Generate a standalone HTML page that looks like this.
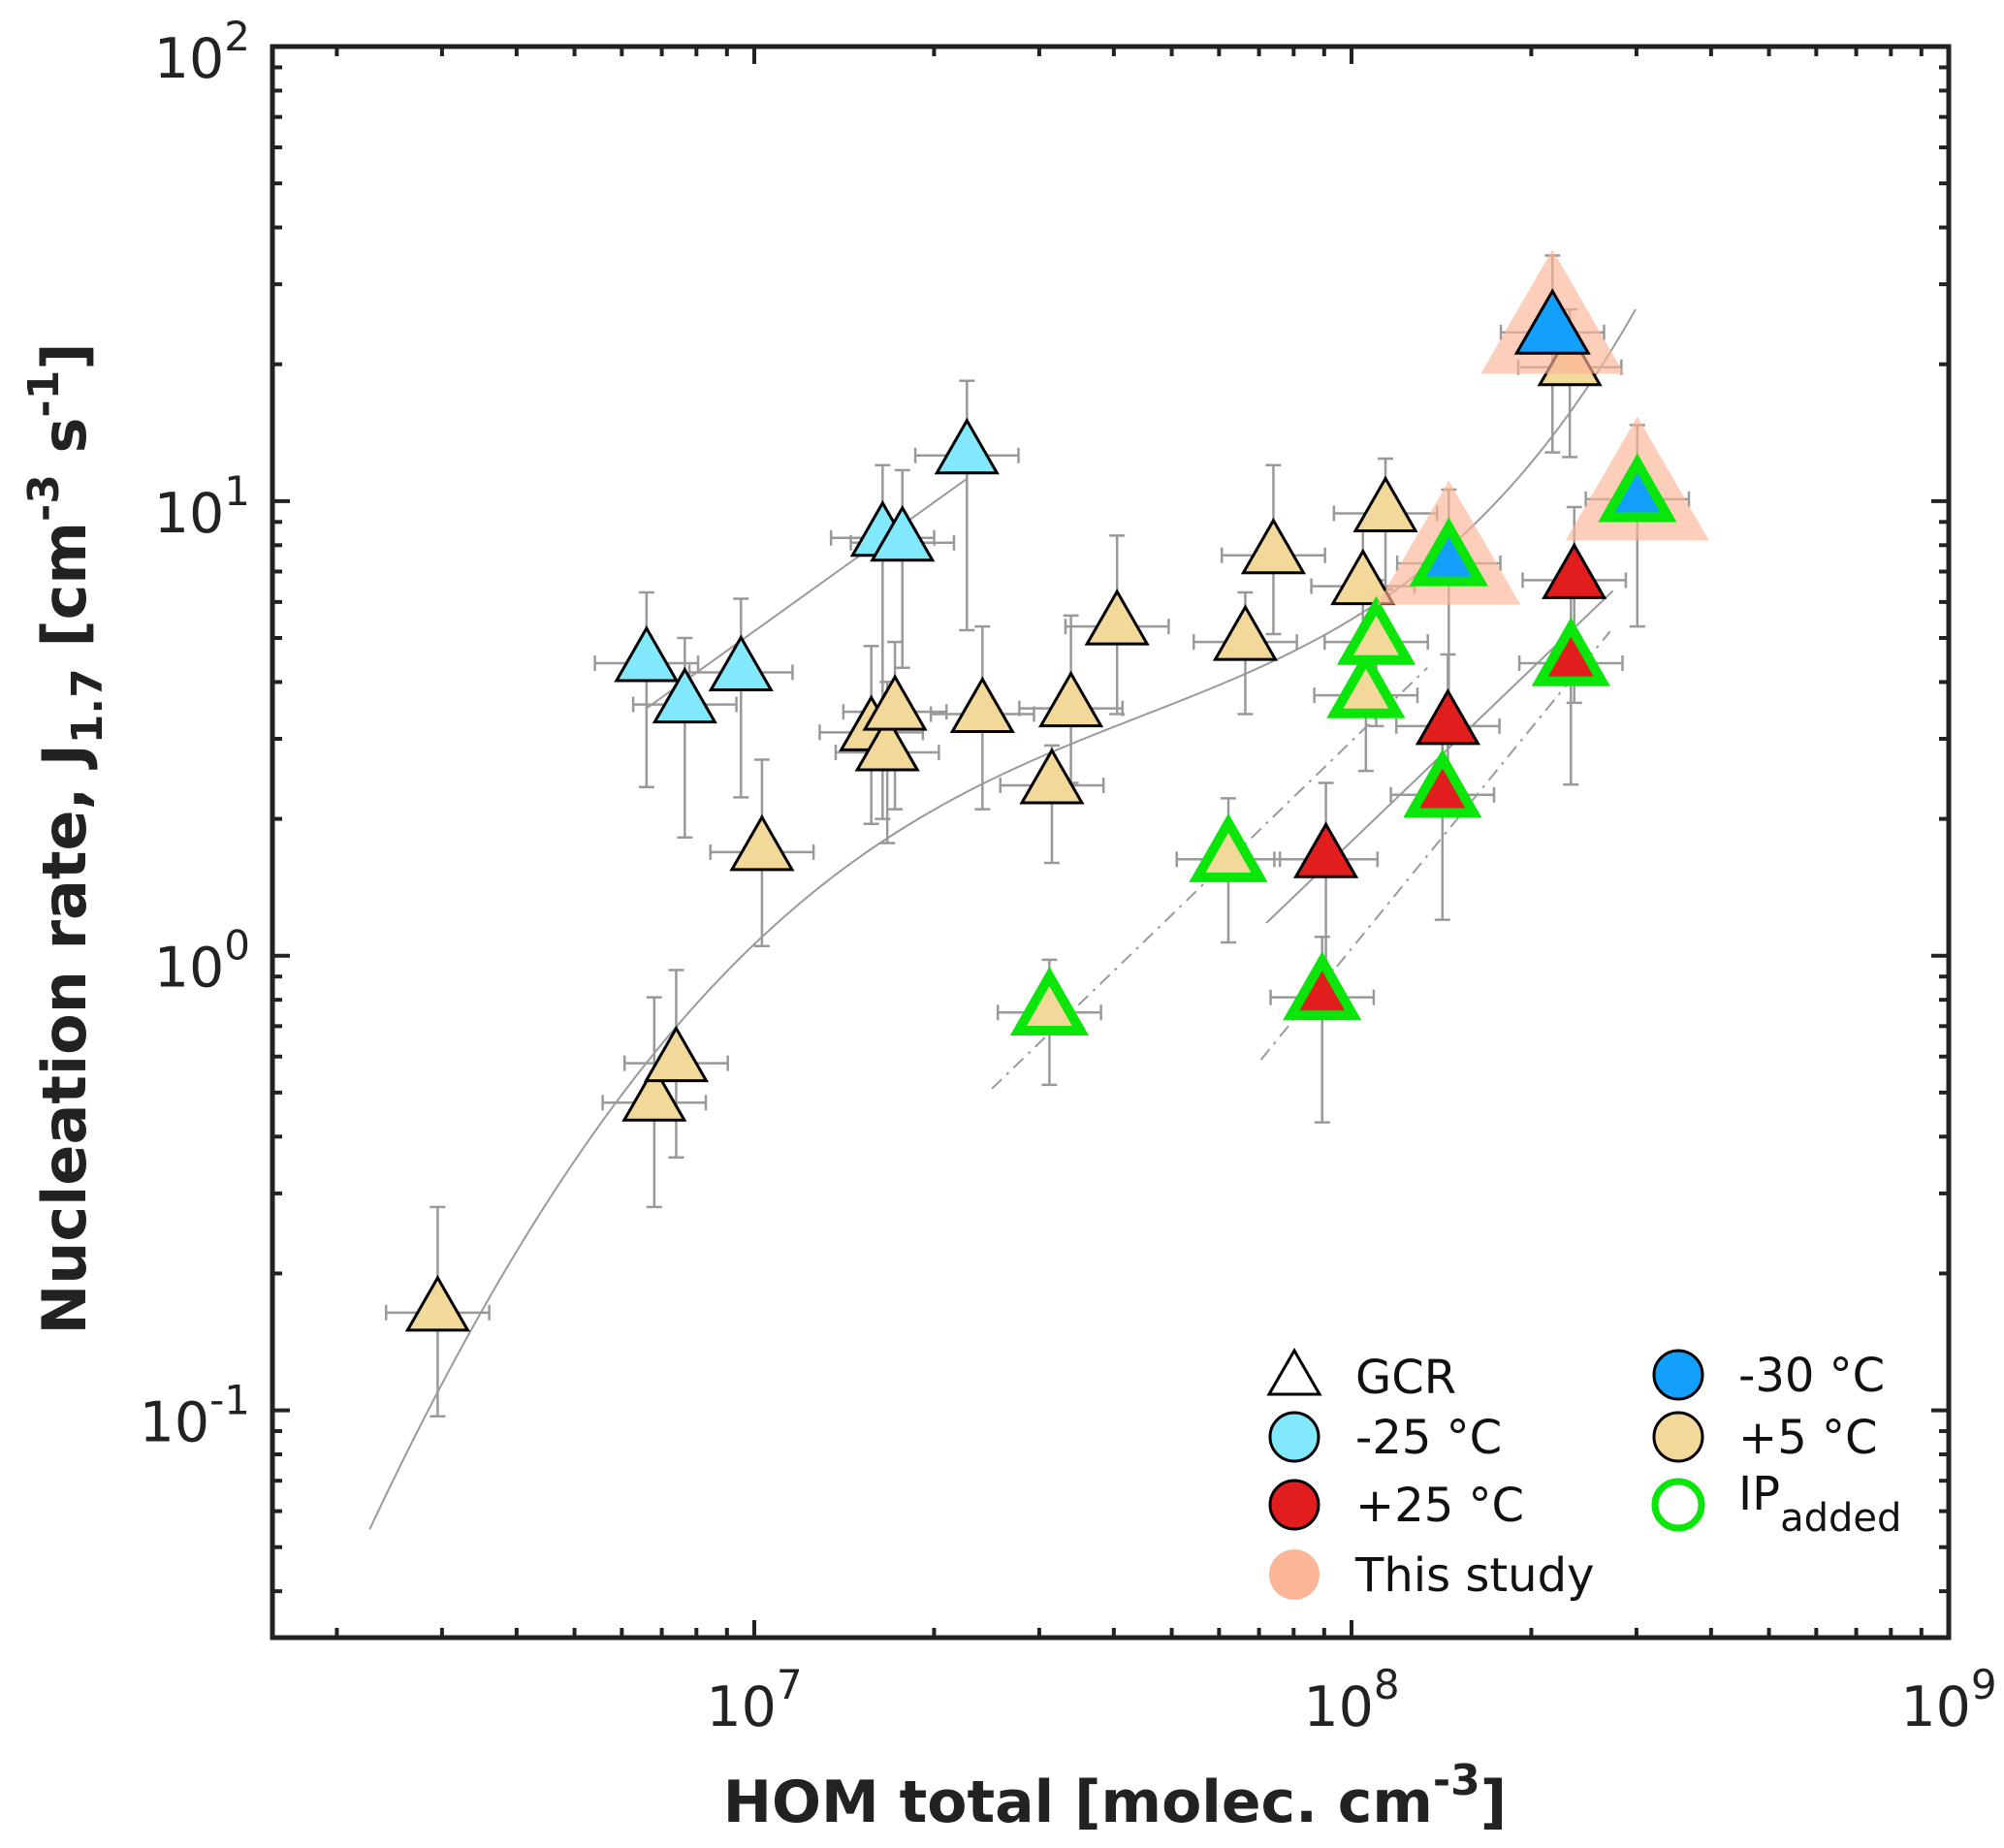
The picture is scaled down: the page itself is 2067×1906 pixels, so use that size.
<!DOCTYPE html>
<html><head><meta charset="utf-8">
<style>
html,body{margin:0;padding:0;background:#fff;}
svg{display:block;font-family:"DejaVu Sans","Liberation Sans",sans-serif;}
</style></head>
<body>
<svg id="chart" width="2067" height="1906" viewBox="0 0 2067 1906" xmlns="http://www.w3.org/2000/svg">
<g id="fits"></g>
<g id="errs"></g>
<g id="marks"></g>
<g id="axes"></g>
<g id="legend">
  <polygon points="1335,1393 1309,1438 1361,1438" fill="none" stroke="#000" stroke-width="3"/>
  <text x="1398" y="1437" font-size="48" fill="#111">GCR</text>
  <circle cx="1335" cy="1482" r="25" fill="#82e8fc" stroke="#000" stroke-width="3"/>
  <text x="1398" y="1499" font-size="48" fill="#111">-25 °C</text>
  <circle cx="1335" cy="1552" r="25" fill="#e21d1d" stroke="#000" stroke-width="3"/>
  <text x="1398" y="1569" font-size="48" fill="#111">+25 °C</text>
  <circle cx="1335" cy="1624" r="26" fill="#fcb597"/>
  <text x="1398" y="1641" font-size="48" fill="#111">This study</text>
  <circle cx="1731" cy="1418" r="25" fill="#139ffc" stroke="#000" stroke-width="3"/>
  <text x="1793" y="1435" font-size="48" fill="#111">-30 °C</text>
  <circle cx="1731" cy="1482" r="25" fill="#f2d899" stroke="#000" stroke-width="3"/>
  <text x="1793" y="1499" font-size="48" fill="#111">+5 °C</text>
  <circle cx="1731" cy="1552" r="24" fill="none" stroke="#0ae60a" stroke-width="7"/>
  <text x="1793" y="1557" font-size="48" fill="#111">IP<tspan font-size="40" dy="22">added</tspan></text>
</g>
<text x="1150" y="1879" text-anchor="middle" font-size="60" font-weight="bold" fill="#222">HOM total [molec. cm<tspan font-size="44" dy="-28">-3</tspan><tspan dy="28">]</tspan></text>
<text transform="translate(88,865) rotate(-90)" text-anchor="middle" font-size="62" font-weight="bold" fill="#222">Nucleation rate, J<tspan font-size="44" dy="17">1.7</tspan><tspan dy="-17"> [cm</tspan><tspan font-size="44" dy="-28">-3</tspan><tspan dy="28"> s</tspan><tspan font-size="44" dy="-28">-1</tspan><tspan dy="28">]</tspan></text>
</svg>
<script>
// ---- data ----
const cyanX = [6.6e6, 7.65e6, 9.5e6, 1.64e7, 1.77e7, 2.27e7];
const cyanY = [4.4, 3.57, 4.2, 8.3, 8.1, 12.6];
const cyanYLo = [2.35, 1.82, 2.23, 2.0, 4.3, 5.2];
const cyanYHi = [6.3, 5.0, 6.1, 12.0, 11.7, 18.4];

const tanX = [2.95e6, 6.8e6, 7.4e6, 1.03e7, 1.57e7, 1.67e7, 1.72e7, 2.41e7, 3.15e7, 3.39e7, 4.05e7, 6.64e7, 7.4e7, 1.045e8, 1.14e8, 2.32e8];
const tanY = [0.164, 0.475, 0.58, 1.69, 3.1, 2.8, 3.44, 3.4, 2.37, 3.5, 5.3, 4.9, 7.6, 6.5, 9.4, 19.7];
const tanYLo = [0.097, 0.28, 0.36, 1.05, 1.95, 1.77, 2.1, 2.1, 1.6, 2.4, 3.4, 3.4, 5.1, 4.0, 6.4, 12.5];
const tanYHi = [0.28, 0.81, 0.93, 2.7, 4.8, 4.0, 4.9, 5.3, 2.9, 5.6, 8.4, 6.3, 12.0, 8.7, 12.4, 26.4];

const tanIpX = [3.12e7, 6.22e7, 1.057e8, 1.1e8];
const tanIpY = [0.75, 1.63, 3.74, 4.9];
const tanIpYLo = [0.52, 1.07, 2.55, 3.2];
const tanIpYHi = [0.98, 2.22, 4.75, 6.7];

const redX = [9.06e7, 1.45e8, 2.36e8];
const redY = [1.63, 3.2, 6.7];
const redYLo = [0.93, 2.26, 3.6];
const redYHi = [2.4, 4.6, 9.7];

const redIpX = [8.93e7, 1.42e8, 2.33e8];
const redIpY = [0.81, 2.26, 4.4];
const redIpYLo = [0.43, 1.2, 2.38];
const redIpYHi = [1.1, 3.3, 6.6];

const blueX = [2.17e8, 1.455e8, 3.01e8];
const blueY = [23.5, 7.3, 10.1];
const blueYLo = [12.8, 2.96, 5.3];
const blueYHi = [34.7, 10.6, 14.7];
const blueIp = [false, true, true];

const xErrFactor = 1.22;

const fitTanX = [2.27e6, 2.95e6, 4.3e6, 6.8e6, 1.03e7, 1.72e7, 3.15e7, 6.6e7, 1.0e8, 1.44e8, 2.17e8, 2.99e8];
const fitTanY = [0.051, 0.123, 0.267, 0.545, 1.11, 1.9, 2.95, 4.1, 5.24, 7.73, 14.8, 25.7];
const fitCyanX = [6.6e6, 2.27e7];
const fitCyanY = [3.5, 11.2];
const fitRedX = [7.2e7, 2.74e8];
const fitRedY = [1.18, 6.35];
const fitTanIpX = [2.5e7, 1.34e8];
const fitTanIpY = [0.51, 4.3];
const fitRedIpX = [7.05e7, 2.71e8];
const fitRedIpY = [0.59, 5.17];

const xTickExp = [7, 8, 9];
const yTickExp = [2, 1, 0, -1];

// ---- scales ----
const L = 281, R = 2010, T = 48, B = 1689;
const xMinL = 9 - (R - L) / 616, xMaxL = 9;
const yMinL = -1.5, yMaxL = 2;
function sx(v){ return L + (Math.log10(v) - xMinL) / (xMaxL - xMinL) * (R - L); }
function sy(v){ return B - (Math.log10(v) - yMinL) / (yMaxL - yMinL) * (B - T); }
const NS = 'http://www.w3.org/2000/svg';
function mk(tag, parent, attrs){
  const e = document.createElementNS(NS, tag);
  for (const k in attrs) e.setAttribute(k, attrs[k]);
  parent.appendChild(e); return e;
}
const gF = document.getElementById('fits'), gE = document.getElementById('errs'),
      gM = document.getElementById('marks'), gA = document.getElementById('axes');

// least-squares cubic in log-log space -> smooth curve
function polyFit(xs, ys, deg){
  const n = deg + 1, A = [], b = [];
  for (let i = 0; i < n; i++){ A.push(new Array(n).fill(0)); b.push(0); }
  xs.forEach((x,k)=>{
    for (let i = 0; i < n; i++){
      for (let j = 0; j < n; j++) A[i][j] += Math.pow(x, i + j);
      b[i] += ys[k] * Math.pow(x, i);
    }
  });
  for (let c = 0; c < n; c++){
    let p = c; for (let r = c+1; r < n; r++) if (Math.abs(A[r][c]) > Math.abs(A[p][c])) p = r;
    [A[c], A[p]] = [A[p], A[c]]; [b[c], b[p]] = [b[p], b[c]];
    for (let r = c+1; r < n; r++){
      const f = A[r][c] / A[c][c];
      for (let j = c; j < n; j++) A[r][j] -= f * A[c][j];
      b[r] -= f * b[c];
    }
  }
  const co = new Array(n).fill(0);
  for (let r = n-1; r >= 0; r--){
    let s = b[r]; for (let j = r+1; j < n; j++) s -= A[r][j] * co[j];
    co[r] = s / A[r][r];
  }
  return co;
}
function fitCurve(xs, ys, name){
  const lx = xs.map(v=>Math.log10(v) - 7.5), ly = ys.map(v=>Math.log10(v));
  const co = polyFit(lx, ly, 4);
  const pts = [];
  const a = lx[0], z = lx[lx.length-1];
  for (let i = 0; i <= 120; i++){
    const t = a + (z - a) * i / 120;
    let y = 0; co.forEach((c,k)=>{ y += c * Math.pow(t, k); });
    pts.push(sx(Math.pow(10, t + 7.5)) + ',' + sy(Math.pow(10, y)));
  }
  const p = mk('polyline', gF, {points: pts.join(' '), fill:'none', stroke:'#9a9a9a', 'stroke-width':2});
  
  
}
function fitLine(xs, ys, name, dash){
  const p = mk('polyline', gF, {points: xs.map((x,i)=>sx(x)+','+sy(ys[i])).join(' '), fill:'none', stroke:'#9a9a9a', 'stroke-width':2});
  if (dash) p.setAttribute('stroke-dasharray', '14,7,3,7');
  
  
}
fitCurve(fitTanX, fitTanY, 'fit-plus5');
fitLine(fitCyanX, fitCyanY, 'fit-minus25', false);
fitLine(fitRedX, fitRedY, 'fit-plus25', false);
fitLine(fitTanIpX, fitTanIpY, 'fit-plus5-ip', true);
fitLine(fitRedIpX, fitRedIpY, 'fit-plus25-ip', true);

// error bars
function errBar(x, y, lo, hi){
  const g = mk('g', gE, {stroke:'#999', 'stroke-width':2.5, fill:'none'});
  
  
  const cx = sx(x), cy = sy(y), x1 = sx(x / xErrFactor), x2 = sx(x * xErrFactor), y1 = sy(hi), y2 = sy(lo);
  mk('line', g, {x1:cx, y1:y1, x2:cx, y2:y2});
  mk('line', g, {x1:cx-8, y1:y1, x2:cx+8, y2:y1});
  mk('line', g, {x1:cx-8, y1:y2, x2:cx+8, y2:y2});
  mk('line', g, {x1:x1, y1:cy, x2:x2, y2:cy});
  mk('line', g, {x1:x1, y1:cy-8, x2:x1, y2:cy+8});
  mk('line', g, {x1:x2, y1:cy-8, x2:x2, y2:cy+8});
}
function tri(cx, cy, w, h){
  return [[cx, cy - 2*h/3], [cx - w/2, cy + h/3], [cx + w/2, cy + h/3]].map(p=>p.join(',')).join(' ');
}
function marker(x, y, fill, ip, halo, name){
  const cx = sx(x), cy = sy(y);
  if (halo){
    const hp = mk('polygon', gM, {points: tri(cx, cy, 148, 128), fill:'#fcb597', opacity:0.65});
    
    
  }
  let p;
  if (ip) p = mk('polygon', gM, {points: tri(cx, cy, 64, 56), fill: fill, stroke:'#0ae60a', 'stroke-width':10, 'stroke-linejoin':'miter'});
  else if (halo) p = mk('polygon', gM, {points: tri(cx, cy, 74, 64), fill: fill, stroke:'#000', 'stroke-width':3});
  else p = mk('polygon', gM, {points: tri(cx, cy, 62, 54), fill: fill, stroke:'#000', 'stroke-width':3});
  
  
}
const all = [];
cyanX.forEach((x,i)=>all.push([x, cyanY[i], cyanYLo[i], cyanYHi[i], '#82e8fc', false, false, 'point-minus25']));
tanX.forEach((x,i)=>all.push([x, tanY[i], tanYLo[i], tanYHi[i], '#f2d899', false, false, 'point-plus5']));
tanIpX.forEach((x,i)=>all.push([x, tanIpY[i], tanIpYLo[i], tanIpYHi[i], '#f2d899', true, false, 'point-plus5-ip']));
redX.forEach((x,i)=>all.push([x, redY[i], redYLo[i], redYHi[i], '#e21d1d', false, false, 'point-plus25']));
redIpX.forEach((x,i)=>all.push([x, redIpY[i], redIpYLo[i], redIpYHi[i], '#e21d1d', true, false, 'point-plus25-ip']));
blueX.forEach((x,i)=>all.push([x, blueY[i], blueYLo[i], blueYHi[i], '#139ffc', blueIp[i], true, 'point-minus30']));
all.forEach(d=>errBar(d[0], d[1], d[2], d[3]));
all.forEach(d=>marker(d[0], d[1], d[4], d[5], d[6], d[7]));

// axes frame & ticks
const frame = mk('rect', gA, {x:L, y:T, width:R-L, height:B-T, fill:'none', stroke:'#222', 'stroke-width':5});


for (let e = Math.floor(xMinL); e < 9; e++){
  for (let m = 1; m <= 9; m++){
    const lv = e + Math.log10(m);
    if (lv < xMinL || lv > xMaxL) continue;
    const px = L + (lv - xMinL) / (xMaxL - xMinL) * (R - L);
    const len = m === 1 ? 18 : 10;
    mk('line', gA, {x1:px, y1:B, x2:px, y2:B-len, stroke:'#222', 'stroke-width':4});
    mk('line', gA, {x1:px, y1:T, x2:px, y2:T+len, stroke:'#222', 'stroke-width':4});
  }
}
for (let e = -2; e < 2; e++){
  for (let m = 1; m <= 9; m++){
    const lv = e + Math.log10(m);
    if (lv < yMinL || lv > yMaxL) continue;
    const py = B - (lv - yMinL) / (yMaxL - yMinL) * (B - T);
    const len = m === 1 ? 18 : 10;
    mk('line', gA, {x1:L, y1:py, x2:L+len, y2:py, stroke:'#222', 'stroke-width':4});
    mk('line', gA, {x1:R, y1:py, x2:R-len, y2:py, stroke:'#222', 'stroke-width':4});
  }
}
xTickExp.forEach(e=>{
  const t = mk('text', gA, {x: sx(Math.pow(10,e)), y: 1780, 'text-anchor':'middle', 'font-size':57, fill:'#222'});
  
  
  t.innerHTML = '10<tspan font-size="42" dy="-28">' + e + '</tspan>';
});
yTickExp.forEach(e=>{
  const t = mk('text', gA, {x: 258, y: sy(Math.pow(10,e)) + 32, 'text-anchor':'end', 'font-size':57, fill:'#222'});
  
  
  t.innerHTML = '10<tspan font-size="42" dy="-28">' + e + '</tspan>';
});
</script>
</body></html>
